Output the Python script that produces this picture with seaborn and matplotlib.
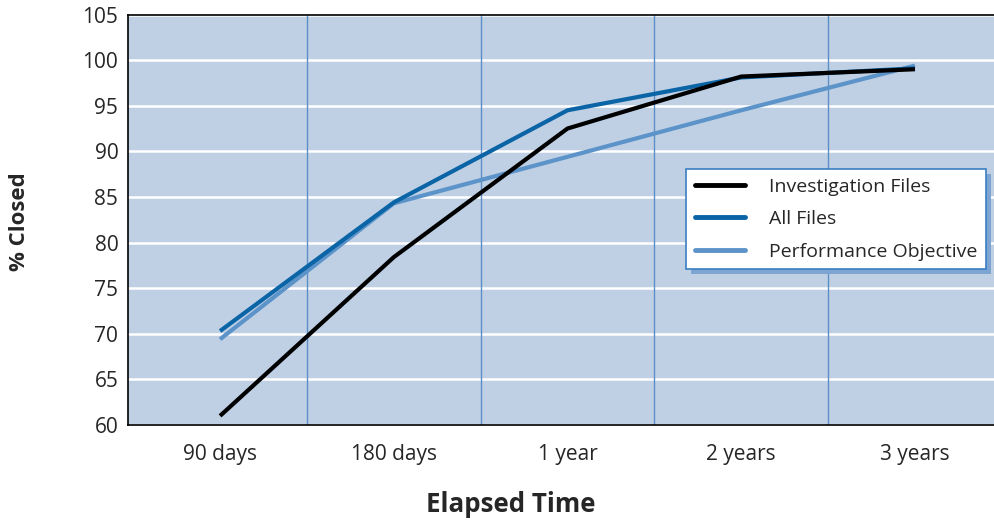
import matplotlib
matplotlib.use("Agg")
import matplotlib.pyplot as plt
import seaborn as sns
import pandas as pd
from matplotlib.lines import Line2D
from matplotlib.patches import Rectangle
from matplotlib.transforms import IdentityTransform

categories = ["90 days", "180 days", "1 year", "2 years", "3 years"]
investigation = [61.0, 78.4, 92.5, 98.2, 99.0]
all_files = [70.3, 84.4, 94.5, 98.1, 99.1]
objective = [69.4, 84.3, 89.4, 94.5, 99.4]
series_names = ["Investigation Files", "All Files", "Performance Objective"]
y_ticks = [60, 65, 70, 75, 80, 85, 90, 95, 100, 105]

colors = {"Investigation Files": "#000000",
          "All Files": "#0a64a6",
          "Performance Objective": "#5c93c8"}

df = pd.DataFrame({
    "Elapsed": categories * 3,
    "value": investigation + all_files + objective,
    "series": [series_names[0]] * 5 + [series_names[1]] * 5 + [series_names[2]] * 5,
})

sns.set_style("white")
plt.rcParams["font.family"] = ["Open Sans", "DejaVu Sans"]

W, H = 994, 523
fig = plt.figure(figsize=(W / 100, H / 100), dpi=100)
ax = fig.add_axes([128 / W, 1 - 425 / H, (994 - 128) / W, (425 - 14.5) / H])
ax.set_facecolor("#bfd0e5")

sns.lineplot(data=df, x="Elapsed", y="value", hue="series",
             hue_order=series_names, palette=colors, linewidth=3.0,
             ax=ax, legend=False, sort=False)

z = {"Investigation Files": 5, "All Files": 4, "Performance Objective": 3}
for line, name in zip(ax.get_lines(), series_names):
    line.set_zorder(z[name])
    line.set_solid_capstyle("butt")

ax.set_xlim(-0.53, 4.455)
ax.set_ylim(60, 105)
ax.set_yticks(y_ticks)
ax.set_yticklabels([str(v) for v in y_ticks], fontsize=15)
ax.yaxis.grid(True, color="white", linewidth=1.8)
ax.set_axisbelow(True)
for xv in [0.5, 1.5, 2.5, 3.5]:
    ax.axvline(xv, color="#5b8fc6", linewidth=1.0, zorder=1)

ax.set_xticks(range(len(categories)))
ax.set_xticklabels(categories, fontsize=15)
ax.tick_params(axis="x", length=0, pad=14)
ax.set_xticks([-0.53, 0.5, 1.5, 2.5, 3.5], minor=True)
ax.tick_params(axis="x", which="minor", direction="out", length=9, width=1.2, color="black")
ax.tick_params(axis="y", direction="out", length=5, width=1.0, color="black", pad=2)

for s in ["left", "bottom", "top"]:
    ax.spines[s].set_visible(True)
    ax.spines[s].set_color("black")
    ax.spines[s].set_linewidth(1.2)
ax.spines["right"].set_visible(False)

ax.set_xlabel("")
ax.set_ylabel("")
fig.text(511 / W, 1 - 505 / H, "Elapsed Time", ha="center", va="center",
         fontsize=18.6, fontweight="bold")
fig.text(20 / W, 1 - 222 / H, "% Closed", ha="center", va="center",
         rotation=90, fontsize=16, fontweight="bold")

handles = [Line2D([], [], color=colors[n], linewidth=3.5) for n in series_names]
leg = ax.legend(handles, series_names, loc="upper left",
                bbox_to_anchor=(686 / W, 1 - 169 / H), bbox_transform=fig.transFigure,
                borderaxespad=0, fontsize=14, handlelength=2.6, handletextpad=1.2,
                labelspacing=0.74, borderpad=0.45, fancybox=False, framealpha=1,
                edgecolor="#3a7fc0", shadow=False)
leg.get_frame().set_linewidth(1.2)
leg.set_zorder(10)

fig.canvas.draw()
bb = leg.get_window_extent()
shadow = Rectangle((bb.x0 + 5, bb.y0 - 5), bb.width, bb.height,
                   transform=IdentityTransform(), facecolor="#7ea5d2",
                   edgecolor="none", zorder=9)
ax.add_artist(shadow)

fig.savefig("out.png", dpi=100, facecolor="white")
